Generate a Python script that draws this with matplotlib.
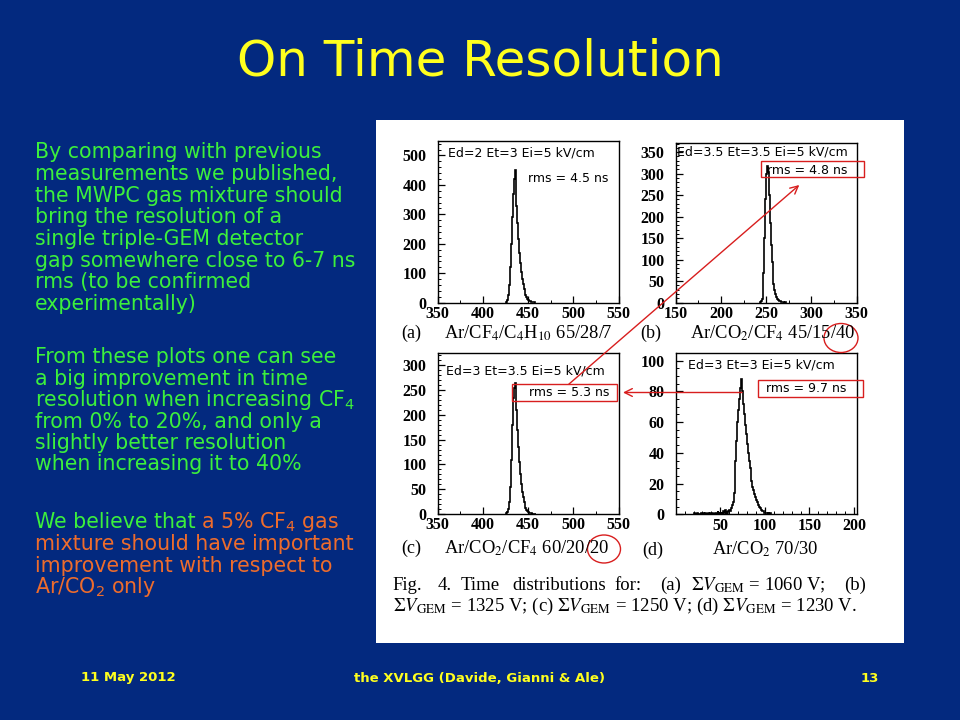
import matplotlib
matplotlib.use("Agg")
import matplotlib.pyplot as plt
import numpy as np
from matplotlib.patches import Rectangle, Ellipse
from matplotlib.ticker import MultipleLocator

# time distributions, 1 ns bins, counts
a_start = 425
a_counts = [2, 4, 10, 25, 60, 120, 200, 290, 370, 420, 450, 400, 330, 270, 215,
            170, 135, 105, 80, 62, 48, 36, 27, 20, 14, 10, 7, 5, 3, 2, 1, 1]

b_start = 243
b_counts = [1, 3, 8, 25, 70, 150, 240, 300, 318, 305, 250, 185, 135, 95, 65,
            44, 30, 20, 14, 9, 6, 4, 3, 2, 1, 1, 1, 0, 1]

c_start = 425
c_counts = [1, 2, 4, 10, 25, 55, 110, 180, 235, 255, 265, 245, 210, 170, 135,
            105, 80, 60, 45, 34, 25, 18, 13, 9, 6, 4, 3, 2, 2, 1, 1, 1, 0, 1]

d_start = 20
d_counts = [0, 1, 0, 0, 1, 0, 0, 0, 1, 0, 0, 1, 0, 1, 0, 0, 1, 0, 0, 1,
            0, 1, 0, 0, 1, 1, 0, 2, 1, 0, 1, 0, 1, 2, 1, 3, 1, 2, 1, 2,
            3, 2, 4, 6, 8, 14, 22, 35, 48, 60, 68, 75, 82, 88, 80, 78, 72, 65,
            58, 52, 46, 40, 35, 30, 26, 22, 18, 16, 13, 11, 9, 8, 6, 5, 4, 4,
            3, 2, 2, 1, 1, 1, 1, 0, 1, 0, 1]

conditions = ["Ed=2 Et=3 Ei=5 kV/cm", "Ed=3.5 Et=3.5 Ei=5 kV/cm",
              "Ed=3 Et=3.5 Ei=5 kV/cm", "Ed=3 Et=3 Ei=5 kV/cm"]
rms_labels = ["rms = 4.5 ns", "rms = 4.8 ns", "rms = 5.3 ns", "rms = 9.7 ns"]
panel_tags = ["(a)", "(b)", "(c)", "(d)"]
mixtures = [r"Ar/CF$_4$/C$_4$H$_{10}$ 65/28/7", r"Ar/CO$_2$/CF$_4$ 45/15/40",
            r"Ar/CO$_2$/CF$_4$ 60/20/20", r"Ar/CO$_2$ 70/30"]

BG = '#03297f'
GREEN = '#3cf03c'
ORANGE = '#ee6c2c'
YELLOW = '#ffff1e'
RED = '#d81e1e'
SERIF = 'Liberation Serif'

fig = plt.figure(figsize=(9.6, 7.2), dpi=100)
fig.patch.set_facecolor(BG)

# background layer: white panel that holds the paper figure
bg = fig.add_axes([0, 0, 1, 1], zorder=-5)
bg.set_xlim(0, 960)
bg.set_ylim(720, 0)
bg.axis('off')
bg.add_patch(Rectangle((376, 120), 528, 523, facecolor='white', edgecolor='none'))


def px_axes(l, t, r, b):
    return fig.add_axes([l / 960, 1 - b / 720, (r - l) / 960, (b - t) / 720])


def draw_hist(ax, start, counts, xlim, ylim, xmaj, xmin, ymaj, ymin):
    edges = np.arange(start, start + len(counts) + 1)
    ax.stairs(counts, edges, color='black', lw=1.2)
    ax.set_xlim(*xlim)
    ax.set_ylim(*ylim)
    ax.xaxis.set_major_locator(MultipleLocator(xmaj))
    ax.xaxis.set_minor_locator(MultipleLocator(xmin))
    ax.yaxis.set_major_locator(MultipleLocator(ymaj))
    ax.yaxis.set_minor_locator(MultipleLocator(ymin))
    ax.tick_params(which='both', direction='in', top=False, right=False,
                   labelsize=11.5, labelfontfamily=SERIF)
    ax.tick_params(which='major', length=5, width=0.9)
    ax.tick_params(which='minor', length=2.5, width=0.7)
    ax.tick_params(axis='y', pad=8)
    ax.tick_params(axis='x', pad=2.5)
    for s in ax.spines.values():
        s.set_linewidth(1.0)
    for lab in ax.get_xticklabels() + ax.get_yticklabels():
        lab.set_fontweight('bold')


ax_a = px_axes(437.7, 140.7, 618.7, 302.7)
draw_hist(ax_a, a_start, a_counts, (350, 550), (0, 550), 50, 25, 100, 20)
ax_b = px_axes(675.7, 142.7, 856.7, 302.7)
draw_hist(ax_b, b_start, b_counts, (150, 350), (0, 372), 50, 25, 50, 10)
ax_c = px_axes(437.7, 353, 618.7, 514)
draw_hist(ax_c, c_start, c_counts, (350, 550), (0, 325), 50, 25, 50, 10)
ax_d = px_axes(675.7, 353, 856.7, 514.3)
draw_hist(ax_d, d_start, d_counts, (0, 203), (0, 105), 50, 10, 20, 5)
ax_d.set_xticks([50, 100, 150, 200])
for lab in ax_d.get_xticklabels():
    lab.set_fontweight('bold')

# overlay layer: slide text, captions and red markings, in pixel units
ov = fig.add_axes([0, 0, 1, 1], zorder=10)
ov.set_xlim(0, 960)
ov.set_ylim(720, 0)
ov.axis('off')

ov.text(480, 62, "On Time Resolution", color=YELLOW, fontsize=36,
        ha='center', va='center', family='DejaVu Sans')

para1 = ["By comparing with previous", "measurements we published,",
         "the MWPC gas mixture should", "bring the resolution of a",
         "single triple-GEM detector", "gap somewhere close to 6-7 ns",
         "rms (to be confirmed", "experimentally)"]
para2 = ["From these plots one can see", "a big improvement in time",
         r"resolution when increasing CF$_4$", "from 0% to 20%, and only a",
         "slightly better resolution", "when increasing it to 40%"]
para3 = [r"mixture should have important", "improvement with respect to",
         r"Ar/CO$_2$ only"]

body = dict(fontsize=14.8, family='DejaVu Sans', va='baseline', ha='left',
            math_fontfamily='dejavusans')
for i, line in enumerate(para1):
    ov.text(35, 158.3 + 21.65 * i, line, color=GREEN, **body)
for i, line in enumerate(para2):
    ov.text(35, 363.3 + 21.4 * i, line, color=GREEN, **body)
t_we = ov.text(35, 528.3, "We believe that", color=GREEN, **body)
fig.canvas.draw()
we_w = t_we.get_window_extent(renderer=fig.canvas.get_renderer()).width
ov.text(35 + we_w + 5, 528.3, r"a 5% CF$_4$ gas", color=ORANGE, **body)
for i, line in enumerate(para3):
    ov.text(35, 550 + 21.6 * i, line, color=ORANGE, **body)

foot = dict(color=YELLOW, fontsize=9.5, fontweight='bold', ha='center',
            va='center', family='DejaVu Sans')
ov.text(128, 678, "11 May 2012", **foot)
ov.text(480, 678, "the XVLGG (Davide, Gianni & Ale)", **foot)
ov.text(870, 678, "13", **foot)

# text inside the histogram frames
sans = dict(fontsize=9, family='DejaVu Sans', va='center', ha='left')
cond_pos = [(447.7, 153.3), (676.7, 151.7), (446, 371), (688.3, 365)]
rms_pos = [(527.7, 178.3), (766.7, 171), (528.7, 392.7), (766, 388.3)]
for txt, (x, y) in zip(conditions, cond_pos):
    ov.text(x, y, txt, **sans)
for txt, (x, y) in zip(rms_labels, rms_pos):
    ov.text(x, y, txt, **sans)

# panel labels under each frame
serif = dict(family=SERIF, va='baseline', ha='left', math_fontfamily='stix')
tag_pos = [(401, 338.3), (640, 338.3), (401, 553.3), (642, 555)]
mix_pos = [(444, 338.3), (690, 338.3), (444, 553.3), (712, 555)]
for txt, (x, y) in zip(panel_tags, tag_pos):
    ov.text(x, y, txt, fontsize=13, **serif)
for txt, (x, y) in zip(mixtures, mix_pos):
    ov.text(x, y, txt, fontsize=13.3, **serif)

# figure caption (justified first line)
cap = dict(fontsize=13.5, **serif)
line1 = [("Fig.", 392.7), ("4.", 437.7), ("Time", 461), ("distributions", 512),
         ("for:", 614.3), ("(a)", 660.3),
         (r"$\Sigma V_{\rm GEM}$ = 1060 V;", 691), ("(b)", 844.3)]
for txt, x in line1:
    ov.text(x, 590, txt, **cap)
ov.text(392.7, 610.5, r"$\Sigma V_{\rm GEM}$ = 1325 V; (c) $\Sigma V_{\rm GEM}$ = 1250 V; "
        r"(d) $\Sigma V_{\rm GEM}$ = 1230 V.", **cap)

# red highlights
for (x0, y0, x1, y1) in [(760.7, 160.7, 864, 176.7), (512, 384.3, 616.7, 400.7),
                         (758.3, 380, 862.7, 396.7)]:
    ov.add_patch(Rectangle((x0, y0), x1 - x0, y1 - y0, fill=False,
                           edgecolor=RED, lw=1))
ov.add_patch(Ellipse((841, 338), 34, 29, fill=False, edgecolor=RED, lw=1))
ov.add_patch(Ellipse((604, 549), 33, 28, fill=False, edgecolor=RED, lw=1))
ov.annotate('', xy=(799.3, 185), xytext=(568.7, 384.3),
            arrowprops=dict(arrowstyle='->', color=RED, lw=1, mutation_scale=14,
                            shrinkA=0, shrinkB=0))
ov.annotate('', xy=(623, 392.5), xytext=(742, 392.5),
            arrowprops=dict(arrowstyle='->', color=RED, lw=1, mutation_scale=14,
                            shrinkA=0, shrinkB=0))

fig.savefig('out.png', dpi=100, facecolor=fig.get_facecolor())
